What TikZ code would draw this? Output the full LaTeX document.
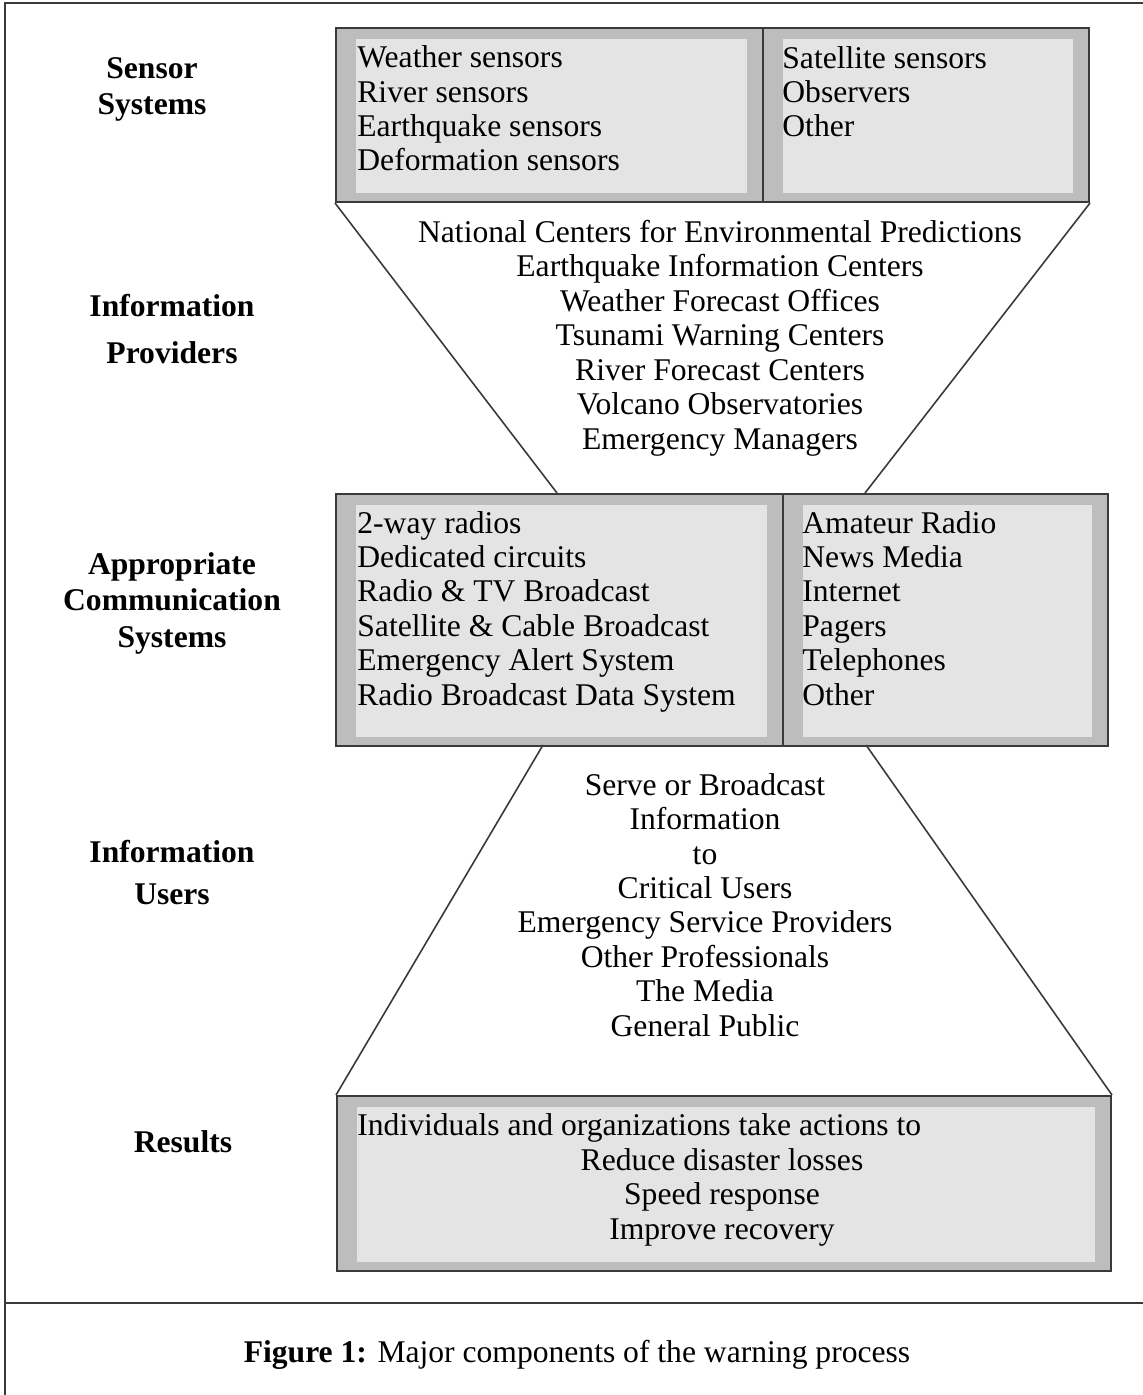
\documentclass[tikz,border=0pt]{standalone}
\usepackage{fontspec}
\setmainfont{Liberation Serif}
\usepackage{xcolor}
\usepackage{tikz}
\definecolor{boxline}{HTML}{3A3A3A}
\definecolor{panelrim}{HTML}{BDBDBD}
\definecolor{panelfill}{HTML}{E4E4E4}
\newcommand{\diagfont}{\fontsize{15.8}{17.2}\selectfont}
\tikzset{
  panel/.style={
    draw=boxline, line width=1pt, fill=panelrim,
    inner sep=0pt, anchor=north west,
    path picture={\fill[panelfill]
      ([xshift=10pt,yshift=-5.5pt]path picture bounding box.north west) rectangle
      ([xshift=-8pt,yshift=4.5pt]path picture bounding box.south east);},
  },
  % multi-line nodes sit on the baseline of their last line
  entry/.style={anchor=base west, align=left, inner sep=0pt},
  flow/.style={anchor=base, align=center, inner sep=0pt},
  stage/.style={anchor=base, align=center, inner sep=0pt, font=\diagfont\bfseries},
  funnel/.style={draw=boxline, line width=0.8pt},
  frame/.style={draw=boxline, line width=1.2pt}
}

\begin{document}
\begin{tikzpicture}[x=0.5pt, y=-0.5pt, font=\diagfont]
  \useasboundingbox (0,0) rectangle (1143,1395);
  % outer frame and caption rule
  \draw[frame] (5,1395) -- (5,3) -- (1143,3);
  \draw[frame] (5,1303) -- (1143,1303);

  % stage labels
  \node[stage] (lsens) at (152,115) {Sensor\\[0.8pt] Systems};
  \node[stage] (lprov) at (172,364) {Information\\[6.3pt] Providers};
  \node[stage] (lcomm) at (172,647) {Appropriate\\[1pt] Communication\\[1pt] Systems};
  \node[stage] (luser) at (172,904) {Information\\[3.8pt] Users};
  \node[stage] (lres)  at (183,1152) {Results};

  % sensor boxes
  \node[panel, minimum width=213.5pt, minimum height=87pt] (sensA) at (335,27) {};
  \node[panel, minimum width=163pt, minimum height=87pt] (sensB) at (762,27) {};
  \node[entry] (sensAtxt) at (357,171) {Weather sensors\\ River sensors\\ Earthquake sensors\\ Deformation sensors};
  \node[entry] (sensBtxt) at (782,137) {Satellite sensors\\ Observers\\ Other};

  % communication boxes
  \node[panel, minimum width=223.5pt, minimum height=126pt] (commA) at (335,493) {};
  \node[panel, minimum width=162.5pt, minimum height=126pt] (commB) at (782,493) {};
  \node[entry] (commAtxt) at (357,705) {2-way radios\\ Dedicated circuits\\ Radio \& TV Broadcast\\
    Satellite \& Cable Broadcast\\ Emergency Alert System\\ Radio Broadcast Data System};
  \node[entry] (commBtxt) at (802,705) {Amateur Radio\\ News Media\\ Internet\\ Pagers\\ Telephones\\ Other};

  % results box
  \node[panel, minimum width=387pt, minimum height=87.5pt] (res) at (336,1095) {};
  \node[entry] (restxt) at (357,1135) {Individuals and organizations take actions to};
  \node[flow] (resgoal) at (722,1239) {Reduce disaster losses\\ Speed response\\ Improve recovery};

  % funnel texts
  \node[flow] (prov) at (720,449) {National Centers for Environmental Predictions\\
    Earthquake Information Centers\\ Weather Forecast Offices\\ Tsunami Warning Centers\\
    River Forecast Centers\\ Volcano Observatories\\ Emergency Managers};
  \node[flow] (user) at (705,1036) {Serve or Broadcast\\ Information\\ to\\ Critical Users\\
    Emergency Service Providers\\ Other Professionals\\ The Media\\ General Public};

  % funnels
  \coordinate (provL) at (557,493);
  \coordinate (provR) at (865,493);
  \coordinate (userL) at (543,745);
  \coordinate (userR) at (866,745);
  \draw[funnel] (sensA.south west) -- (provL);
  \draw[funnel] (sensB.south east) -- (provR);
  \draw[funnel] (userL) -- (res.north west);
  \draw[funnel] (userR) -- (res.north east);

  \node[flow] (cap) at (577,1362) {\textbf{Figure 1:} Major components of the warning process};
\end{tikzpicture}
\end{document}
